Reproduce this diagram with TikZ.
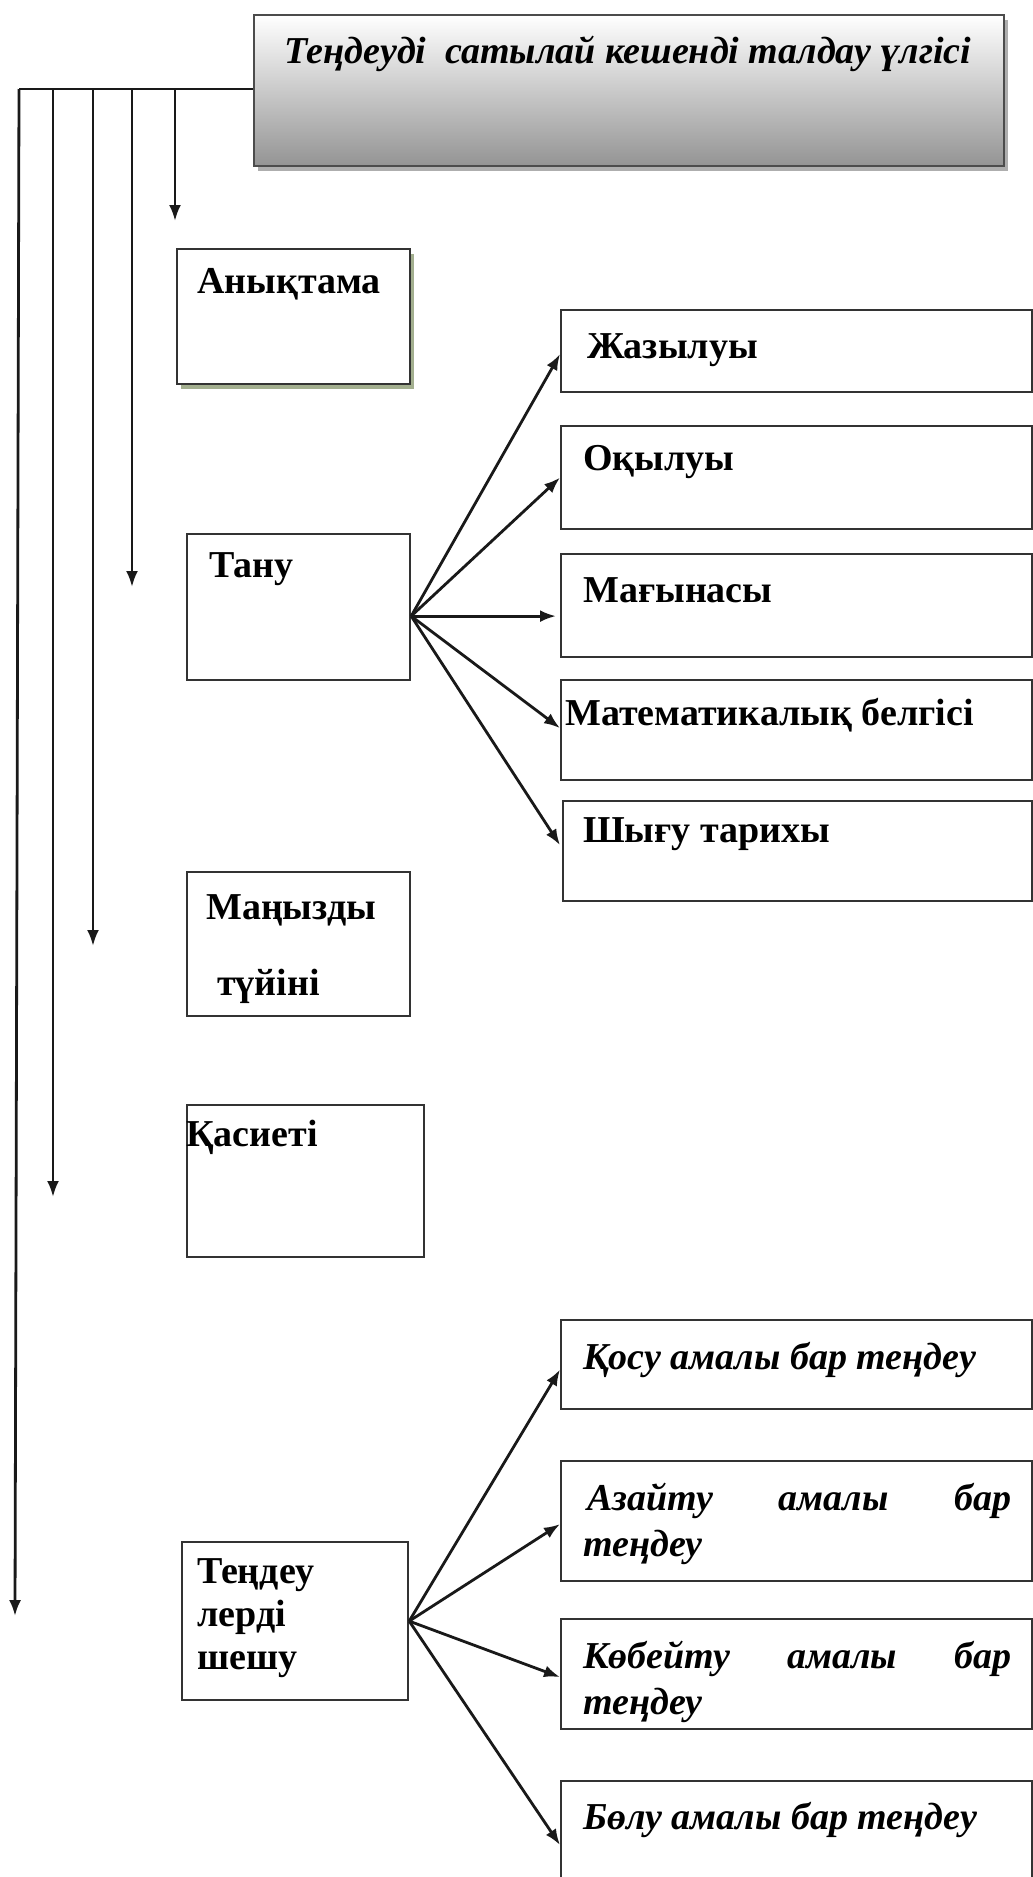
\documentclass[tikz,border=0pt]{standalone}
\usepackage{fontspec}
\setmainfont{Liberation Serif}
\usetikzlibrary{arrows.meta,shadows}
\definecolor{shgreen}{RGB}{140,155,115}
\begin{document}
\begin{tikzpicture}[x=1pt,y=-1pt,
  box/.style={draw=black!80, line width=2.2pt, rectangle, inner sep=0pt, anchor=north west, fill=white},
  lbl/.style={font=\fontsize{38}{46}\selectfont\bfseries, anchor=west, inner sep=0pt, align=left},
  ilbl/.style={font=\fontsize{38}{46}\selectfont\bfseries\itshape, anchor=west, inner sep=0pt, align=left},
  conn/.style={line width=2.8pt, draw=black!90},
  arr/.style={conn, -{Latex[length=16pt,width=12pt]}},
]
\useasboundingbox (0,0) rectangle (1033,1877);

% title
\node[box, draw=black!70, minimum width=750pt, minimum height=151pt, top color=white, bottom color=black!42,
  drop shadow={shadow xshift=4pt, shadow yshift=-5pt, fill=black!45, opacity=0.7}] (title) at (253,14) {};
\node[ilbl, anchor=center] (titleT) at (628,54) {Теңдеуді\ \ сатылай кешенді талдау үлгісі};

% left boxes
\node[box, minimum width=233pt, minimum height=135pt,
  drop shadow={shadow xshift=4pt, shadow yshift=-5pt, fill=shgreen, opacity=0.8}] (anyk) at (176,248) {};
\node[lbl] (anykT) at (197,284) {Анықтама};

\node[box, minimum width=223pt, minimum height=146pt] (tanu) at (186,533) {};
\node[lbl] (tanuT) at (209,569) {Тану};

\node[box, minimum width=223pt, minimum height=144pt] (man) at (186,871) {};
\node[lbl] (manT1) at (206,910) {Маңызды};
\node[lbl] (manT2) at (217,986) {түйіні};

\node[box, minimum width=237pt, minimum height=152pt] (kas) at (186,1104) {};
\node[lbl] (kasT) at (186,1137) {Қасиеті};

\node[box, minimum width=226pt, minimum height=158pt] (shesh) at (181,1541) {};
\node[lbl, font=\fontsize{38}{43}\selectfont\bfseries] (sheshT) at (197,1618) {Теңдеу\\лерді\\шешу};

% right boxes (upper group)
\node[box, minimum width=471pt, minimum height=82pt] (zhaz) at (560,309) {};
\node[lbl] (zhazT) at (587,350) {Жазылуы};
\node[box, minimum width=471pt, minimum height=103pt] (oqyl) at (560,425) {};
\node[lbl] (oqylT) at (583,462) {Оқылуы};
\node[box, minimum width=471pt, minimum height=103pt] (mag) at (560,553) {};
\node[lbl] (magT) at (583,590) {Мағынасы};
\node[box, minimum width=471pt, minimum height=100pt] (math) at (560,679) {};
\node[lbl] (mathT) at (565,715) {Математикалық белгісі};
\node[box, minimum width=469pt, minimum height=100pt] (shyg) at (562,800) {};
\node[lbl] (shygT) at (583,834) {Шығу тарихы};

% right boxes (lower group)
\node[box, minimum width=471pt, minimum height=89pt] (qosu) at (560,1319) {};
\node[ilbl] (qosuT) at (583,1360) {Қосу амалы бар теңдеу};
\node[box, minimum width=471pt, minimum height=120pt] (azai) at (560,1460) {};
\node[ilbl] (azaiT) at (583,1524) {\kern4pt\makebox[424pt][s]{Азайту амалы бар}\\теңдеу};
\node[box, minimum width=471pt, minimum height=110pt] (kob) at (560,1618) {};
\node[ilbl] (kobT) at (583,1682) {\makebox[428pt][s]{Көбейту амалы бар}\\теңдеу};
\node[box, minimum width=471pt, minimum height=160pt] (bolu) at (560,1780) {};
\node[ilbl] (boluT) at (583,1820) {Бөлу амалы бар теңдеу};

% left bus
\coordinate (b0) at (19,89);
\coordinate (b1) at (175,89);
\coordinate (b2) at (132,89);
\coordinate (b3) at (93,89);
\coordinate (b4) at (53,89);
\coordinate (e1) at (175,221);
\coordinate (e2) at (132,587);
\coordinate (e3) at (93,946);
\coordinate (e4) at (53,1197);
\coordinate (e0) at (15,1616);
\draw[conn] (title.west |- b0) -- (b0);
\draw[arr] (b1) -- (e1);
\draw[arr] (b2) -- (e2);
\draw[arr] (b3) -- (e3);
\draw[arr] (b4) -- (e4);
\draw[arr] (b0) -- (e0);

% fan from Тану
\coordinate (tf) at ([yshift=-9pt]tanu.east);
\draw[arr] (tf) -- ([yshift=-3pt]zhaz.west);
\draw[arr] (tf) -- (oqyl.west);
\draw[arr] (tf) -- ([xshift=-4pt]mag.west |- tf);
\draw[arr] (tf) -- ([yshift=2pt]math.west);
\draw[arr] (tf) -- ([xshift=-2pt,yshift=6pt]shyg.west);

% fan from Теңдеулерді шешу
\coordinate (sf) at (shesh.east);
\draw[arr] (sf) -- ([yshift=-5pt]qosu.west);
\draw[arr] (sf) -- ([yshift=-3pt]azai.west);
\draw[arr] (sf) -- ([yshift=-3pt]kob.west);
\draw[arr] (sf) -- (bolu.west |- 0,1845);
\end{tikzpicture}
\end{document}
